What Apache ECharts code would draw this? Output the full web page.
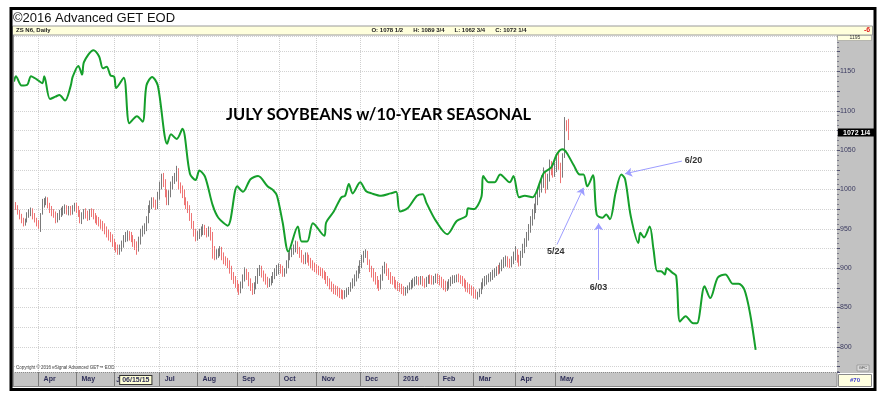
<!DOCTYPE html>
<html>
<head>
<meta charset="utf-8">
<script src="https://cdn.jsdelivr.net/npm/echarts@6/dist/echarts.min.js"></script>
<style>
html, body { margin: 0; padding: 0; background: #fff; }
#chart { width: 882px; height: 397px; }
</style>
</head>
<body>
<div id="chart"></div>
<script>
// trading-day slots across the window, slot 0 = mid March 2015
var dayCount = 436;
var monthStarts = [13, 33, 53, 77, 97, 118, 140, 160, 183, 203, 224, 243, 265, 286];
var monthNames = ['Apr', 'May', 'Jun', 'Jul', 'Aug', 'Sep', 'Oct', 'Nov', 'Dec', '2016', 'Feb', 'Mar', 'Apr', 'May'];
var cursorDate = '06/15/15';

// ZS N6 daily bars
var opens = [
    986, 981, 977, 971, 967, 961, 957, 961, 967, 971,
    972, 967, 961, 958, 952, 970, 981, 984, 986, 981,
    976, 971, 969, 962, 965, 969, 971, 973, 977, 971,
    975, 971, 975, 979, 975, 971, 961, 965, 971, 969,
    965, 971, 971, 967, 963, 961, 959, 956, 953, 949,
    945, 941, 939, 933, 929, 926, 921, 925, 929, 937,
    939, 943, 941, 937, 933, 929, 925, 934, 944, 947,
    951, 961, 974, 979, 986, 983, 979, 991, 1004, 1016,
    1009, 996, 984, 994, 1004, 1011, 1014, 1023, 1006, 1001,
    996, 986, 981, 976, 966, 956, 946, 939, 941, 944,
    947, 951, 947, 943, 949, 941, 923, 915, 917, 919,
    923, 916, 911, 909, 906, 899, 891, 886, 881, 876,
    873, 879, 887, 896, 891, 883, 877, 871, 877, 884,
    894, 899, 893, 889, 885, 879, 881, 884, 889, 894,
    897, 901, 899, 893, 896, 904, 914, 919, 921, 924,
    931, 923, 919, 913, 909, 916, 913, 909, 906, 903,
    901, 899, 897, 896, 893, 891, 886, 883, 879, 876,
    873, 873, 871, 869, 868, 865, 867, 869, 873, 877,
    881, 887, 891, 897, 904, 911, 917, 919, 907, 899,
    896, 891, 886, 881, 877, 887, 897, 903, 896, 891,
    886, 885, 881, 879, 877, 876, 873, 869, 871, 873,
    877, 879, 881, 883, 886, 882, 886, 883, 879, 883,
    887, 886, 883, 885, 889, 886, 885, 881, 879, 875,
    877, 881, 884, 885, 886, 889, 887, 886, 883, 881,
    877, 875, 873, 871, 868, 864, 867, 871, 877, 881,
    884, 887, 887, 890, 892, 894, 899, 897, 901, 904,
    907, 911, 907, 904, 909, 914, 919, 913, 907, 917,
    924, 931, 939, 949, 959, 967, 974, 984, 994, 1001,
    1009, 1019, 1004, 1014, 1031, 1026, 1021, 1027, 1036, 1031,
    1021, 1044, 1083, 1078.5
];
var closes = [
    982, 978, 972, 966, 962, 958, 960, 968, 970, 972,
    966, 962, 958, 955, 966, 982, 984, 986, 980, 975,
    970, 968, 962, 966, 970, 972, 974, 976, 972, 974,
    972, 976, 978, 974, 970, 962, 966, 970, 968, 966,
    970, 970, 966, 962, 960, 958, 955, 952, 948, 944,
    940, 938, 932, 928, 925, 922, 926, 930, 938, 940,
    942, 940, 938, 932, 928, 924, 935, 945, 948, 952,
    962, 975, 980, 985, 982, 980, 992, 1005, 1015, 1008,
    995, 985, 995, 1005, 1012, 1015, 1022, 1005, 1000, 995,
    985, 980, 975, 965, 955, 945, 940, 942, 945, 948,
    950, 946, 944, 948, 940, 922, 916, 918, 920, 922,
    915, 910, 908, 905, 898, 890, 885, 880, 875, 872,
    878, 888, 895, 890, 882, 876, 872, 878, 885, 895,
    898, 892, 888, 884, 880, 882, 885, 890, 895, 898,
    900, 898, 894, 895, 905, 915, 918, 920, 925, 930,
    922, 918, 912, 910, 915, 912, 908, 905, 902, 900,
    898, 896, 895, 892, 890, 885, 882, 878, 875, 872,
    872, 870, 868, 867, 866, 868, 870, 872, 878, 882,
    888, 892, 898, 905, 912, 918, 920, 908, 900, 895,
    890, 885, 880, 878, 888, 898, 902, 895, 890, 885,
    884, 880, 878, 876, 875, 872, 870, 872, 874, 878,
    880, 882, 884, 885, 883, 885, 882, 880, 884, 886,
    885, 884, 886, 888, 885, 884, 880, 878, 876, 878,
    882, 885, 886, 887, 888, 886, 885, 882, 880, 876,
    874, 872, 870, 867, 865, 866, 870, 878, 882, 885,
    886, 888, 890, 893, 895, 897, 898, 902, 905, 908,
    910, 906, 905, 910, 915, 918, 912, 908, 918, 925,
    932, 940, 950, 960, 968, 975, 985, 995, 1002, 1010,
    1020, 1005, 1015, 1030, 1025, 1022, 1028, 1035, 1030, 1020,
    1040, 1085, 1080, 1072.25
];
var lows = [
    978, 974, 968, 962, 957, 953, 954, 958, 964, 966,
    962, 958, 953, 950, 946, 968, 977, 980, 976, 970,
    966, 964, 957, 958, 961, 965, 967, 969, 968, 967,
    967, 968, 972, 970, 965, 957, 956, 962, 963, 960,
    961, 965, 962, 957, 955, 953, 950, 947, 943, 939,
    935, 933, 927, 923, 920, 917, 917, 921, 926, 933,
    934, 935, 933, 927, 923, 917, 921, 930, 940, 943,
    947, 957, 970, 975, 977, 974, 975, 987, 1000, 1003,
    990, 980, 980, 990, 1000, 1007, 1010, 1000, 995, 989,
    980, 975, 970, 960, 950, 940, 934, 935, 937, 940,
    942, 942, 939, 940, 935, 912, 910, 911, 913, 915,
    910, 905, 903, 900, 893, 885, 880, 875, 870, 866,
    868, 874, 883, 885, 877, 871, 866, 867, 873, 880,
    890, 888, 883, 879, 875, 876, 878, 881, 886, 890,
    892, 893, 889, 889, 893, 900, 910, 914, 917, 920,
    918, 913, 907, 905, 905, 907, 903, 900, 897, 895,
    893, 891, 890, 887, 885, 880, 877, 873, 870, 867,
    866, 864, 862, 861, 860, 861, 863, 866, 870, 874,
    877, 883, 887, 893, 900, 907, 913, 904, 895, 888,
    883, 879, 874, 871, 873, 884, 893, 890, 885, 880,
    879, 875, 873, 871, 870, 867, 865, 865, 868, 872,
    873, 875, 877, 879, 878, 879, 877, 875, 876, 880,
    880, 879, 879, 881, 880, 878, 875, 872, 870, 871,
    873, 877, 880, 881, 882, 882, 880, 877, 875, 870,
    869, 867, 865, 862, 861, 860, 863, 867, 873, 877,
    879, 882, 883, 885, 888, 890, 892, 893, 896, 900,
    902, 901, 900, 901, 905, 910, 907, 902, 903, 913,
    919, 927, 935, 945, 954, 962, 970, 980, 990, 996,
    1002, 995, 1000, 1010, 1018, 1015, 1016, 1022, 1025, 1008,
    1015, 1040, 1074, 1062.75
];
var highs = [
    990, 984, 980, 974, 969, 964, 963, 971, 975, 977,
    976, 970, 964, 961, 970, 988, 989, 991, 990, 983,
    979, 975, 972, 970, 974, 977, 979, 981, 980, 979,
    979, 980, 983, 983, 979, 974, 971, 975, 976, 973,
    975, 976, 975, 970, 967, 965, 962, 960, 957, 953,
    949, 946, 943, 937, 933, 930, 930, 935, 942, 946,
    948, 947, 946, 942, 937, 934, 940, 950, 954, 957,
    966, 980, 986, 990, 990, 987, 997, 1010, 1020, 1021,
    1013, 1000, 999, 1010, 1017, 1021, 1030, 1027, 1009, 1005,
    1000, 990, 985, 980, 970, 960, 950, 947, 950, 953,
    956, 955, 951, 953, 952, 946, 928, 924, 925, 928,
    927, 920, 915, 913, 910, 903, 895, 890, 885, 880,
    883, 892, 901, 899, 895, 887, 881, 882, 890, 900,
    904, 903, 897, 893, 889, 887, 890, 895, 900, 904,
    906, 905, 903, 900, 910, 920, 923, 926, 930, 935,
    934, 927, 923, 917, 920, 920, 917, 913, 910, 907,
    905, 903, 901, 900, 897, 895, 890, 887, 883, 880,
    878, 877, 875, 873, 872, 872, 875, 876, 882, 887,
    892, 897, 903, 910, 917, 922, 924, 922, 911, 903,
    900, 895, 890, 885, 892, 903, 908, 906, 900, 895,
    890, 889, 885, 883, 881, 880, 877, 876, 878, 882,
    885, 887, 889, 890, 889, 890, 890, 887, 889, 891,
    892, 891, 890, 893, 893, 891, 889, 886, 884, 883,
    886, 889, 891, 891, 892, 893, 891, 890, 887, 885,
    882, 880, 878, 876, 873, 870, 874, 882, 887, 890,
    891, 893, 895, 898, 900, 902, 904, 907, 911, 914,
    916, 915, 912, 915, 921, 928, 924, 917, 922, 931,
    938, 946, 956, 966, 975, 982, 992, 1002, 1009, 1018,
    1028, 1022, 1020, 1038, 1036, 1031, 1034, 1045, 1050, 1034,
    1046, 1092, 1088, 1089.75
];
var lastPrice = 1072.25;

// 10-year seasonal pattern (slot, price)
var seasonalDays = [
    0, 1, 4, 7, 9, 12, 15, 16, 19, 22, 24, 27, 30, 31, 34, 36, 37, 42, 45, 47,
    49, 51, 53, 54, 58, 61, 65, 68, 70, 73, 76, 81, 83, 86, 89, 93, 96, 98, 101, 105,
    108, 113, 118, 121, 125, 129, 134, 137, 139, 142, 145, 150, 152, 155, 158, 164, 165, 169, 173, 175,
    177, 179, 183, 186, 189, 194, 199, 202, 204, 208, 213, 216, 218, 223, 229, 234, 239, 240, 243, 247,
    248, 251, 254, 257, 262, 264, 267, 270, 274, 276, 280, 284, 287, 290, 292, 296, 299, 301, 303, 306,
    308, 311, 313, 315, 318, 321, 323, 326, 330, 331, 333, 336, 338, 340, 342, 344, 345, 348, 350, 352,
    355, 359, 361, 365, 368, 372, 376, 380, 383, 386, 389, 392
];
var seasonalValues = [
    1137, 1144, 1132, 1133, 1144, 1140, 1135, 1144, 1115, 1118, 1120, 1113, 1132, 1143, 1157, 1146, 1162, 1177, 1169, 1154,
    1156, 1145, 1143, 1129, 1142, 1084, 1093, 1086, 1132, 1143, 1132, 1058, 1070, 1064, 1077, 1020, 1012, 1024, 1016, 980,
    964, 954, 1004, 997, 1013, 1017, 1004, 999, 992, 958, 921, 953, 934, 934, 957, 941, 958, 972, 990, 992,
    1007, 995, 1009, 998, 995, 992, 995, 997, 972, 976, 992, 994, 983, 960, 943, 960, 966, 976, 975, 990,
    1017, 1009, 1009, 1019, 1009, 1017, 990, 992, 990, 996, 1021, 1028, 1045, 1051, 1047, 1030, 1019, 1019, 1004, 1018,
    968, 964, 968, 962, 996, 1019, 1013, 966, 932, 945, 939, 953, 924, 896, 896, 892, 900, 894, 890, 832,
    839, 830, 830, 877, 862, 888, 892, 880, 880, 873, 843, 796
];

// arrows: [label, from slot, from price, to slot, to price]
var notes = [
    ['6/20', 353, 1036, 323, 1020],
    ['5/24', 287, 930, 301, 1002],
    ['6/03', 309, 885, 309, 957]
];

var days = [];
for (var i = 0; i < dayCount; i++) {
    days.push(String(i));
}
var bars = opens.map(function (o, i) {
    return [o, closes[i], lows[i], highs[i]];
});
var seasonal = seasonalDays.map(function (d, i) {
    return [d, seasonalValues[i]];
});
var noteLines = notes.map(function (n) {
    return [{ name: n[0], coord: [n[1], n[2]] }, { coord: [n[3], n[4]] }];
});

function isMonthStart(index) {
    return monthStarts.indexOf(index) >= 0;
}

var font = 'Liberation Sans';
var myChart = echarts.init(document.getElementById('chart'));

var option = {
    animation: false,
    backgroundColor: '#ffffff',
    title: {
        text: 'JULY SOYBEANS w/10-YEAR SEASONAL',
        left: 226,
        top: 107,
        padding: 0,
        textStyle: { fontFamily: 'Lato', fontSize: 16.4, fontWeight: 'bold', color: '#000' }
    },
    grid: { left: 14, right: 45, top: 36, bottom: 25, outerBoundsMode: 'none' },
    xAxis: {
        type: 'category',
        data: days,
        boundaryGap: false,
        axisLine: { show: false },
        axisTick: {
            show: true,
            interval: function (index) { return isMonthStart(index); },
            length: 14,
            lineStyle: { color: '#7c7c7c', width: 1 }
        },
        axisLabel: {
            interval: function (index) { return isMonthStart(index); },
            margin: 4,
            align: 'left',
            fontFamily: font,
            fontSize: 7,
            fontWeight: 'bold',
            color: '#2e2e58',
            formatter: function (value, index) {
                var k = monthStarts.indexOf(index);
                if (k < 0) return '';
                if (k === 2) return '{j|J}{c|' + cursorDate + '}';
                return '{m|' + monthNames[k] + '}';
            },
            rich: {
                m: { fontFamily: font, fontSize: 7, fontWeight: 'bold', color: '#2e2e58', padding: [0, 0, 0, 5] },
                j: { fontFamily: font, fontSize: 7, fontWeight: 'bold', color: '#2e2e58', padding: [0, 0, 0, 2] },
                c: {
                    fontFamily: font, fontSize: 7, fontWeight: 'bold', color: '#2e2e58',
                    backgroundColor: '#ffffd6', borderColor: '#333', borderWidth: 1, padding: [1, 2, 0, 2]
                }
            }
        },
        splitLine: {
            show: true,
            interval: function (index) { return isMonthStart(index); },
            lineStyle: { color: '#cfcfcf', type: 'dotted', width: 1 }
        }
    },
    yAxis: {
        type: 'value',
        position: 'right',
        min: 768,
        max: 1195,
        splitNumber: 17,
        minInterval: 25,
        maxInterval: 25,
        axisLine: { show: false },
        axisTick: { show: true, length: 3, lineStyle: { color: '#505070' } },
        minorTick: { show: true, splitNumber: 4, length: 2, lineStyle: { color: '#7a7a8a' } },
        axisLabel: {
            margin: 3,
            fontFamily: font,
            fontSize: 7,
            color: '#3a3a60',
            formatter: function (v) { return v % 50 === 0 ? String(v) : ''; }
        },
        splitLine: { show: true, lineStyle: { color: '#d2d2d2', type: 'dotted', width: 1 } }
    },
    series: [
        {
            name: 'ZS N6',
            type: 'candlestick',
            data: bars,
            barWidth: 1,
            z: 2,
            itemStyle: {
                color: '#7a7a7a',
                color0: '#ee7474',
                borderColor: '#7a7a7a',
                borderColor0: '#ee7474',
                borderWidth: 1
            },
            markLine: {
                silent: true,
                symbol: 'none',
                lineStyle: { color: 'rgba(0,0,0,0)', width: 0 },
                label: {
                    show: true,
                    position: 'end',
                    distance: 1,
                    formatter: '1072 1/4',
                    backgroundColor: '#000',
                    color: '#fff',
                    fontFamily: font,
                    fontSize: 7,
                    fontWeight: 'bold',
                    padding: [1, 5, 0, 5]
                },
                data: [{ yAxis: lastPrice }]
            }
        },
        {
            name: 'Seasonal',
            type: 'line',
            data: seasonal,
            smooth: 0.3,
            showSymbol: false,
            z: 3,
            lineStyle: { color: '#159f2b', width: 2 },
            markLine: {
                silent: true,
                symbol: ['none', 'arrow'],
                symbolSize: 7,
                lineStyle: { color: '#9d9dff', width: 1, type: 'solid' },
                label: {
                    position: 'start',
                    distance: 3,
                    formatter: '{b}',
                    fontFamily: font,
                    fontSize: 9,
                    fontWeight: 'bold',
                    color: '#333'
                },
                data: noteLines
            }
        }
    ],
    graphic: [
        // window chrome
        { type: 'rect', z: 50, shape: { x: 12.5, y: 26, width: 860, height: 9 },
          style: { fill: '#ffffdc', stroke: '#9a9a9a', lineWidth: 1 } },
        { type: 'text', z: 51, style: { text: '\u00a92016 Advanced GET EOD', x: 13, y: 18,
          font: '13px "Liberation Sans"', fill: '#111', textVerticalAlign: 'middle', verticalAlign: 'middle' } },
        { type: 'text', z: 51, style: { text: 'ZS N6, Daily', x: 16, y: 30.5,
          font: 'bold 6px "Liberation Sans"', fill: '#222', textVerticalAlign: 'middle', verticalAlign: 'middle' } },
        { type: 'text', z: 51, style: { text: 'O: 1078 1/2      H: 1089 3/4      L: 1062 3/4      C: 1072 1/4', x: 449, y: 30.5,
          font: 'bold 6px "Liberation Sans"', fill: '#222', textAlign: 'center', align: 'center',
          textVerticalAlign: 'middle', verticalAlign: 'middle' } },
        { type: 'text', z: 51, style: { text: '-6', x: 867, y: 30.5,
          font: 'bold 7px "Liberation Sans"', fill: '#e02020', textAlign: 'center', align: 'center',
          textVerticalAlign: 'middle', verticalAlign: 'middle' } },
        // right price panel
        { type: 'rect', z: -10, shape: { x: 837, y: 35, width: 36, height: 338 },
          style: { fill: '#c2c2c2' } },
        { type: 'rect', z: 50, shape: { x: 837.5, y: 35.5, width: 34, height: 5 },
          style: { fill: '#ffffe0', stroke: '#8a8a8a', lineWidth: 0.5 } },
        { type: 'text', z: 51, style: { text: '1195', x: 855, y: 38,
          font: '5px "Liberation Sans"', fill: '#333', textAlign: 'center', align: 'center',
          textVerticalAlign: 'middle', verticalAlign: 'middle' } },
        { type: 'rect', z: 50, shape: { x: 857, y: 365, width: 12, height: 6 },
          style: { fill: '#dadada', stroke: '#777', lineWidth: 0.5 } },
        { type: 'text', z: 51, style: { text: 'GFC', x: 863, y: 368,
          font: '4px "Liberation Sans"', fill: '#444', textAlign: 'center', align: 'center',
          textVerticalAlign: 'middle', verticalAlign: 'middle' } },
        // bottom date bar
        { type: 'rect', z: -10, shape: { x: 12.5, y: 372.5, width: 824.5, height: 14 },
          style: { fill: '#c4c4c4', stroke: '#8a8a8a', lineWidth: 1 } },
        { type: 'rect', z: 50, shape: { x: 838.5, y: 374.5, width: 33, height: 12 },
          style: { fill: '#ffffe0', stroke: '#8a8a8a', lineWidth: 1 } },
        { type: 'text', z: 51, style: { text: '#70', x: 855, y: 380.5,
          font: 'bold 6px "Liberation Sans"', fill: '#4040d0', textAlign: 'center', align: 'center',
          textVerticalAlign: 'middle', verticalAlign: 'middle' } },
        { type: 'text', z: 51, style: { text: 'Copyright \u00a9 2016 eSignal Advanced GET\u2122 EOD', x: 16, y: 368,
          font: '4.5px "Liberation Sans"', fill: '#444', textVerticalAlign: 'middle', verticalAlign: 'middle' } },
        // left edge and outer frame
        { type: 'rect', z: 50, shape: { x: 12, y: 35, width: 2, height: 352 },
          style: { fill: '#8e8e8e' } },
        { type: 'rect', z: 60, shape: { x: 11, y: 8.5, width: 864, height: 381 },
          style: { fill: null, stroke: '#000', lineWidth: 3 } }
    ]
};

myChart.setOption(option);
</script>
</body>
</html>
